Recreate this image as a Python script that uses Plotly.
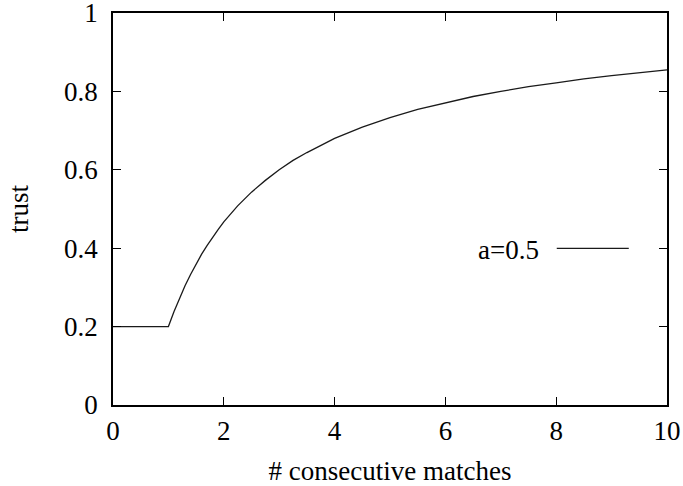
import plotly.graph_objects as go

# Values
matches = [0.0, 1.0, 1.1, 1.2, 1.3, 1.4, 1.5, 1.6, 1.7, 1.8, 1.9, 2.0,
           2.25, 2.5, 2.75, 3.0, 3.25, 3.5, 3.75, 4.0,
           4.5, 5.0, 5.5, 6.0, 6.5, 7.0, 7.5, 8.0, 8.5, 9.0, 9.5, 10.0]
trust = [0.2, 0.2, 0.238, 0.273, 0.304, 0.333, 0.36, 0.385, 0.407, 0.429, 0.448, 0.467,
         0.508, 0.543, 0.573, 0.6, 0.624, 0.644, 0.663, 0.68,
         0.709, 0.733, 0.754, 0.771, 0.787, 0.8, 0.812, 0.822, 0.832, 0.84, 0.848, 0.855]
series_name = "a=0.5"
x_ticks = [0, 2, 4, 6, 8, 10]
y_ticks = [0, 0.2, 0.4, 0.6, 0.8, 1]
y_tick_labels = ["0", "0.2", "0.4", "0.6", "0.8", "1"]

FONT = "Liberation Serif"
FS = 27

fig = go.Figure()
fig.add_trace(go.Scatter(x=matches, y=trust, mode="lines",
                         line=dict(color="#1a1a1a", width=1.3),
                         name=series_name, showlegend=False, cliponaxis=False))

# gnuplot-style key: text followed by line sample
fig.add_annotation(x=0.7726, y=0.396, xref="paper", yref="paper",
                   text=series_name, showarrow=False, xanchor="right", yanchor="middle",
                   font=dict(family=FONT, size=FS, color="black"))
fig.add_shape(type="line", xref="paper", yref="paper", x0=0.801, x1=0.931,
              y0=0.3995, y1=0.3995, line=dict(color="#1a1a1a", width=1.3))

axis_common = dict(showline=True, linecolor="black", linewidth=1.5, mirror="allticks",
                   ticks="inside", ticklen=8, tickwidth=1, tickcolor="black",
                   showgrid=False, zeroline=False, automargin=False,
                   ticklabeloverflow="allow",
                   tickfont=dict(family=FONT, size=FS, color="black"))

fig.update_xaxes(range=[0, 10], tickvals=x_ticks,
                 title=dict(text="# consecutive matches", font=dict(family=FONT, size=FS, color="black"), standoff=20),
                 ticklabelstandoff=1, **axis_common)
fig.update_yaxes(range=[0, 1], tickvals=y_ticks, ticktext=y_tick_labels,
                 title=dict(text="trust", font=dict(family=FONT, size=FS, color="black"), standoff=28),
                 ticklabelstandoff=8, **axis_common)

fig.update_layout(width=683, height=486,
                  margin=dict(l=113, r=16, t=13, b=81),
                  paper_bgcolor="white", plot_bgcolor="white",
                  font=dict(family=FONT, size=FS, color="black"))

fig.write_html("out.html", config={"displayModeBar": False},
               post_script="document.body.style.margin='0';")
